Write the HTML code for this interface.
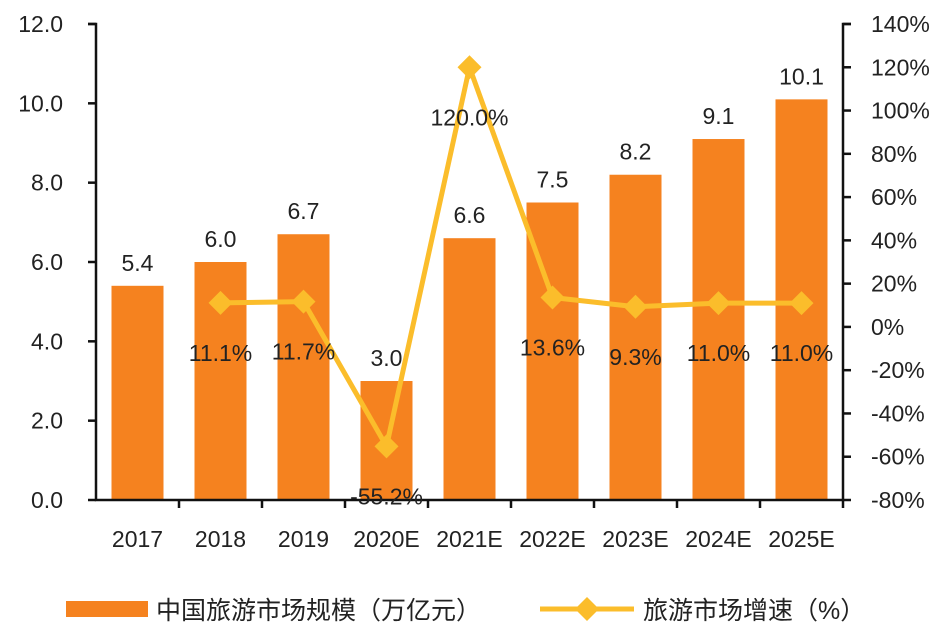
<!DOCTYPE html>
<html><head><meta charset="utf-8"><style>
body{margin:0;background:#fff;}
svg text{font-family:"Liberation Sans","Noto Sans CJK SC",sans-serif;fill:#222;}
</style></head><body>
<svg id="chart" width="939" height="635" xmlns="http://www.w3.org/2000/svg"></svg>
<script>
const categories=["2017","2018","2019","2020E","2021E","2022E","2023E","2024E","2025E"];
const marketSize=[5.4,6.0,6.7,3.0,6.6,7.5,8.2,9.1,10.1];
const growth=[null,11.1,11.7,-55.2,120.0,13.6,9.3,11.0,11.0];
const leftTicks=[0,2,4,6,8,10,12];
const rightTicks=[-80,-60,-40,-20,0,20,40,60,80,100,120,140];
const NS="http://www.w3.org/2000/svg";
const svg=document.getElementById('chart');
const X0=96,X1=843,Y0=500,Y1=24;
const FS=23;
const cw=(X1-X0)/categories.length;
const xc=i=>X0+cw*(i+0.5);
const yL=v=>Y0-(v-0)/12*(Y0-Y1);
const yR=v=>Y0-(v+80)/220*(Y0-Y1);
function el(t,a,txt){const e=document.createElementNS(NS,t);for(const k in a)e.setAttribute(k,a[k]);if(txt!==undefined)e.textContent=txt;svg.appendChild(e);return e;}
marketSize.forEach((v,i)=>{
 const r=el('rect',{x:xc(i)-26,y:yL(v),width:52,height:Y0-yL(v),fill:'#F5821F'});
 
 
 const t=el('text',{x:xc(i),y:yL(v)-15,'text-anchor':'middle','font-size':FS},v.toFixed(1));
 
 
});
const ax=el('path',{d:`M${X0-8},${Y1}H${X0}V${Y0}H${X1}V${Y1}H${X1+8}`,stroke:'#111','stroke-width':2.5,fill:'none'});


leftTicks.forEach(v=>{
 el('line',{x1:X0-8,x2:X0,y1:yL(v),y2:yL(v),stroke:'#111','stroke-width':2.5});
 const t=el('text',{x:X0-33,y:yL(v)+8,'text-anchor':'end','font-size':FS},v.toFixed(1));
 
 
});
rightTicks.forEach(v=>{
 el('line',{x1:X1,x2:X1+8,y1:yR(v),y2:yR(v),stroke:'#111','stroke-width':2.5});
 const t=el('text',{x:X1+28,y:yR(v)+8,'text-anchor':'start','font-size':FS},v+'%');
 
 
});
categories.forEach((c,i)=>{
 el('line',{x1:X0+cw*(i+1),x2:X0+cw*(i+1),y1:Y0,y2:Y0+8,stroke:'#111','stroke-width':2.5});
 const t=el('text',{x:xc(i),y:Y0+47,'text-anchor':'middle','font-size':FS},c);
 
 
});
let pts=[];growth.forEach((v,i)=>{if(v!==null)pts.push([xc(i),yR(v)]);});
const ln=el('polyline',{points:pts.map(p=>p.join(',')).join(' '),fill:'none',stroke:'#FBBD2B','stroke-width':5,'stroke-linejoin':'round'});


growth.forEach((v,i)=>{
 if(v===null)return;
 const x=xc(i),y=yR(v);
 const m=el('path',{d:`M${x},${y-12}L${x+12},${y}L${x},${y+12}L${x-12},${y}Z`,fill:'#FBBD2B'});
 
 
 const t=el('text',{x:x,y:y+58,'text-anchor':'middle','font-size':FS},v.toFixed(1)+'%');
 
 
});
const lr=el('rect',{x:66,y:601,width:82,height:16,fill:'#F5821F'});


const lt1=el('text',{x:156,y:619,'font-size':25},'中国旅游市场规模（万亿元）');


const ll=el('line',{x1:540,x2:634,y1:609,y2:609,stroke:'#FBBD2B','stroke-width':5});


const lm=el('path',{d:'M587,597L599,609L587,621L575,609Z',fill:'#FBBD2B'});


const lt2=el('text',{x:643,y:619,'font-size':25},'旅游市场增速（%）');


</script>
</body></html>
